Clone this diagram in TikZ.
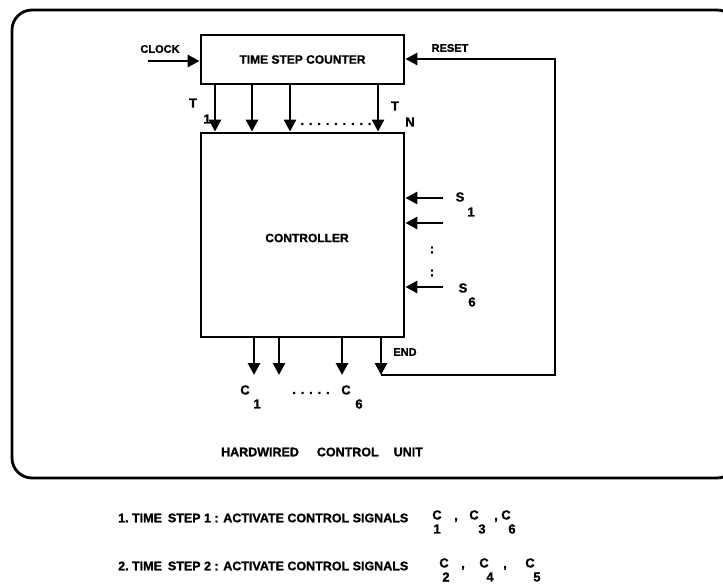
\documentclass[tikz,border=0pt]{standalone}
\usepackage{fontspec}
\setmainfont{Liberation Sans}[BoldFeatures={FakeBold=1.2}]
\usetikzlibrary{arrows.meta}
\begin{document}
\begin{tikzpicture}[x=1pt,y=-1pt,
  frame/.style={line width=2.8pt, rounded corners=20pt},
  box/.style={draw, line width=2.8pt, inner sep=0pt},
  arr/.style={line width=2.8pt, -{Triangle[width=12pt,length=12pt]}},
  lbl/.style={font=\fontsize{11}{11}\selectfont\bfseries, inner sep=0pt},
  sym/.style={font=\fontsize{13}{13}\selectfont\bfseries, inner sep=0pt},
  note/.style={font=\fontsize{12.5}{12.5}\selectfont\bfseries, inner sep=0pt, anchor=west}
]
\useasboundingbox (0,0) rectangle (723,585);
% outer frame (extends past right edge)
\draw[frame] (12,10) rectangle (737,478);

% blocks
\node[box, minimum width=203pt, minimum height=49pt, font=\fontsize{12}{12}\selectfont\bfseries] (counter) at (302.5,59.5) {TIME STEP COUNTER};
\node[box, minimum width=203pt, minimum height=204pt] (ctrl) at (302.5,235) {};
\node[lbl, font=\fontsize{12}{12}\selectfont\bfseries] (ctrltxt) at (307,238) {CONTROLLER};

% clock input
\coordinate (clkin) at (148,61);
\node[lbl] (clock) at (160,49) {CLOCK};
\draw[arr] (clkin) -- (counter.west |- clkin);

% time step lines
\draw[arr] (counter.south -| 215,0) -- (ctrl.north -| 215,0);
\draw[arr] (counter.south -| 252,0) -- (ctrl.north -| 252,0);
\draw[arr] (counter.south -| 290,0) -- (ctrl.north -| 290,0);
\draw[arr] (counter.south -| 378,0) -- (ctrl.north -| 378,0);
\node[sym] (t1) at (193,103) {T};
\node[sym] (t1s) at (207,119) {1};
\node[sym] (tn) at (395,106) {T};
\node[sym] (tns) at (410,122) {N};
\node[sym] (tdots) at (336,124) {. . . . . . . . .};

% status inputs
\coordinate (s1in) at (443,198);
\coordinate (s2in) at (443,223);
\coordinate (s6in) at (443,287);
\draw[arr] (s1in) -- (ctrl.east |- s1in);
\draw[arr] (s2in) -- (ctrl.east |- s2in);
\draw[arr] (s6in) -- (ctrl.east |- s6in);
\node[sym] (s1) at (460,197) {S};
\node[sym] (s1s) at (471,212) {1};
\node[sym] (s6) at (463,288) {S};
\node[sym] (s6s) at (472,302) {6};
\node[sym] (vd1) at (432,250) {:};
\node[sym] (vd2) at (432,273) {:};

% control outputs
\draw[arr] (ctrl.south -| 254,0) -- (254,375);
\draw[arr] (ctrl.south -| 279,0) -- (279,375);
\draw[arr] (ctrl.south -| 342,0) -- (342,375);
\node[sym] (c1) at (245,390) {C};
\node[sym] (c1s) at (257,404) {1};
\node[sym] (cdots) at (311,393) {. . . . .};
\node[sym] (c6) at (346,390) {C};
\node[sym] (c6s) at (359,404) {6};

% END feedback to RESET
\coordinate (endpt) at (381,375);
\coordinate (rb) at (555,375);
\coordinate (rt) at (555,59);
\draw[arr] (ctrl.south -| endpt) -- (endpt);
\node[lbl] (endlbl) at (405,352) {END};
\draw[arr] (endpt) -- (rb) -- (rt) -- (counter.east |- rt);
\node[lbl] (reset) at (450,48) {RESET};

% caption
\node[font=\fontsize{12.5}{12.5}\selectfont\bfseries, inner sep=0pt] (cap) at (322,452) {HARDWIRED\hspace{18pt}CONTROL\hspace{15pt}UNIT};

% notes
\node[note] (n1) at (118,518) {1.~TIME\hspace{6pt}STEP 1 : ACTIVATE CONTROL SIGNALS};
\node[sym] (n1c1) at (437,515) {C};
\node[sym] (n1c1s) at (437,529) {1};
\node[sym] (n1k1) at (456,520) {,};
\node[sym] (n1c3) at (474,515) {C};
\node[sym] (n1c3s) at (482,529) {3};
\node[sym] (n1k2) at (496,520) {,};
\node[sym] (n1c6) at (506,515) {C};
\node[sym] (n1c6s) at (512,529) {6};

\node[note] (n2) at (118,566) {2.~TIME\hspace{6pt}STEP 2 : ACTIVATE CONTROL SIGNALS};
\node[sym] (n2c2) at (444,563) {C};
\node[sym] (n2c2s) at (446,577) {2};
\node[sym] (n2k1) at (463,568) {,};
\node[sym] (n2c4) at (484,563) {C};
\node[sym] (n2c4s) at (490,577) {4};
\node[sym] (n2k2) at (505,568) {,};
\node[sym] (n2c5) at (530,563) {C};
\node[sym] (n2c5s) at (537,577) {5};
\end{tikzpicture}
\end{document}
